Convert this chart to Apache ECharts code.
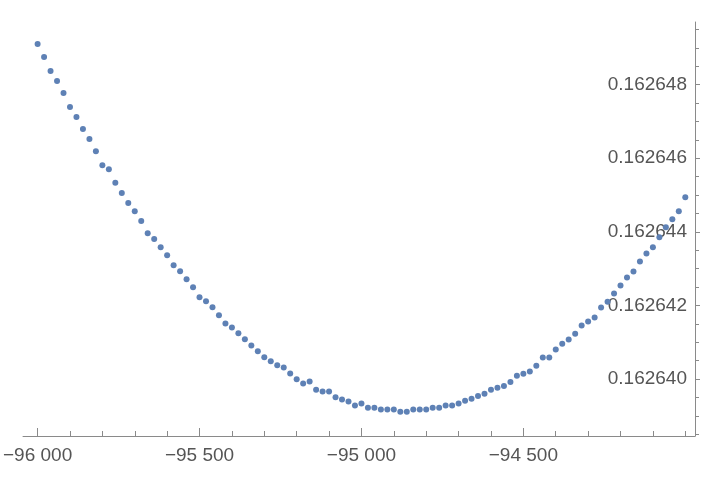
<!DOCTYPE html>
<html>
<head>
<meta charset="utf-8">
<script src="https://cdn.jsdelivr.net/npm/echarts@6/dist/echarts.min.js"></script>
<style>html,body{margin:0;padding:0;background:#fff}#c{width:720px;height:486px}</style>
</head>
<body>
<div id="c"></div>
<script>
const xValues = [
  -96000,-95980,-95960,-95940,-95920,-95900,-95880,-95860,-95840,-95820,
  -95800,-95780,-95760,-95740,-95720,-95700,-95680,-95660,-95640,-95620,
  -95600,-95580,-95560,-95540,-95520,-95500,-95480,-95460,-95440,-95420,
  -95400,-95380,-95360,-95340,-95320,-95300,-95280,-95260,-95240,-95220,
  -95200,-95180,-95160,-95140,-95120,-95100,-95080,-95060,-95040,-95020,
  -95000,-94980,-94960,-94940,-94920,-94900,-94880,-94860,-94840,-94820,
  -94800,-94780,-94760,-94740,-94720,-94700,-94680,-94660,-94640,-94620,
  -94600,-94580,-94560,-94540,-94520,-94500,-94480,-94460,-94440,-94420,
  -94400,-94380,-94360,-94340,-94320,-94300,-94280,-94260,-94240,-94220,
  -94200,-94180,-94160,-94140,-94120,-94100,-94080,-94060,-94040,-94020,
  -94000
];
const yValues = [
  0.1626491,0.16264875,0.16264837,0.1626481,0.16264777,0.16264739,0.16264712,0.16264679,0.16264652,0.16264619,
  0.16264581,0.1626457,0.16264533,0.16264505,0.16264478,0.16264456,0.16264429,0.16264396,0.1626438,0.16264358,
  0.16264336,0.16264309,0.16264293,0.16264271,0.16264249,0.16264222,0.16264211,0.16264195,0.16264173,0.16264151,
  0.1626414,0.16264124,0.16264108,0.16264091,0.16264075,0.16264059,0.16264048,0.16264037,0.16264031,0.16264015,
  0.16263999,0.16263988,0.16263993,0.16263971,0.16263966,0.16263966,0.1626395,0.16263944,0.16263939,0.16263928,
  0.16263933,0.16263922,0.16263922,0.16263917,0.16263917,0.16263917,0.16263911,0.16263911,0.16263917,0.16263917,
  0.16263917,0.16263922,0.16263922,0.16263928,0.16263928,0.16263933,0.16263941,0.16263946,0.16263954,0.1626396,
  0.16263971,0.16263976,0.16263981,0.16263992,0.16264009,0.16264014,0.1626402,0.16264036,0.16264058,0.16264058,
  0.1626408,0.16264096,0.16264107,0.16264123,0.16264145,0.16264156,0.16264167,0.16264194,0.1626421,0.16264232,
  0.16264254,0.16264276,0.16264292,0.16264319,0.16264341,0.16264358,0.16264385,0.16264412,0.16264434,0.16264456,
  0.16264494
];
const xMajorTicks = [-96000, -95500, -95000, -94500];
const xMinorTicks = [
  -96000,-95900,-95800,-95700,-95600,-95500,-95400,-95300,-95200,-95100,
  -95000,-94900,-94800,-94700,-94600,-94500,-94400,-94300,-94200,-94100,-94000
];
const yMajorTicks = [0.16264, 0.162642, 0.162644, 0.162646, 0.162648];
const yMinorTicks = [
  0.1626385,0.162639,0.1626395,0.16264,0.1626405,0.162641,0.1626415,0.162642,
  0.1626425,0.162643,0.1626435,0.162644,0.1626445,0.162645,0.1626455,0.162646,
  0.1626465,0.162647,0.1626475,0.162648,0.1626485,0.162649,0.1626495
];

const X_MIN = -96045, X_MAX = -93970;
const Y_MIN = 0.16263845, Y_MAX = 0.1626497;
const AXIS_COLOR = '#8a8a8a';
const TEXT_COLOR = '#555555';
const FONT = 'Liberation Sans, Arial, sans-serif';

function fmtX(v) {
  const s = String(Math.round(Math.abs(v)));
  const body = s.length > 3 ? s.slice(0, s.length - 3) + ' ' + s.slice(-3) : s;
  return (v < 0 ? '\u2212' : '') + body;
}

const points = xValues.map((x, i) => [x, yValues[i]]);

const chart = echarts.init(document.getElementById('c'), null, {renderer: 'canvas'});
chart.setOption({
  animation: false,
  backgroundColor: '#ffffff',
  grid: {left: 23, right: 25, top: 22, bottom: 50, containLabel: false},
  xAxis: [
    {
      type: 'value', min: X_MIN, max: X_MAX, position: 'bottom',
      axisLine: {show: true, onZero: false, lineStyle: {color: AXIS_COLOR, width: 1}},
      axisTick: {show: true, inside: true, length: 8, customValues: xMajorTicks, lineStyle: {color: AXIS_COLOR}},
      axisLabel: {show: true, customValues: xMajorTicks, formatter: fmtX, margin: 10,
        fontSize: 19, color: TEXT_COLOR, fontFamily: FONT},
      splitLine: {show: false}
    },
    {
      type: 'value', min: X_MIN, max: X_MAX, position: 'bottom',
      axisLine: {show: false, onZero: false},
      axisTick: {show: true, inside: true, length: 5, customValues: xMinorTicks, lineStyle: {color: AXIS_COLOR}},
      axisLabel: {show: false},
      splitLine: {show: false}
    }
  ],
  yAxis: [
    {
      type: 'value', min: Y_MIN, max: Y_MAX, position: 'right',
      axisLine: {show: true, onZero: false, lineStyle: {color: AXIS_COLOR, width: 1}},
      axisTick: {show: true, inside: false, length: 5, customValues: yMajorTicks, lineStyle: {color: AXIS_COLOR}},
      axisLabel: {show: true, inside: true, customValues: yMajorTicks, margin: 8,
        formatter: v => v.toFixed(6), fontSize: 19, color: TEXT_COLOR, fontFamily: FONT},
      splitLine: {show: false}
    },
    {
      type: 'value', min: Y_MIN, max: Y_MAX, position: 'right',
      axisLine: {show: false, onZero: false},
      axisTick: {show: true, inside: false, length: 4, customValues: yMinorTicks, lineStyle: {color: AXIS_COLOR}},
      axisLabel: {show: false},
      splitLine: {show: false}
    }
  ],
  series: [{
    type: 'scatter',
    xAxisIndex: 0, yAxisIndex: 0,
    data: points,
    symbol: 'circle',
    symbolSize: 6,
    itemStyle: {color: '#5E81B5', opacity: 1},
    z: 1
  }]
});
</script>
</body>
</html>
